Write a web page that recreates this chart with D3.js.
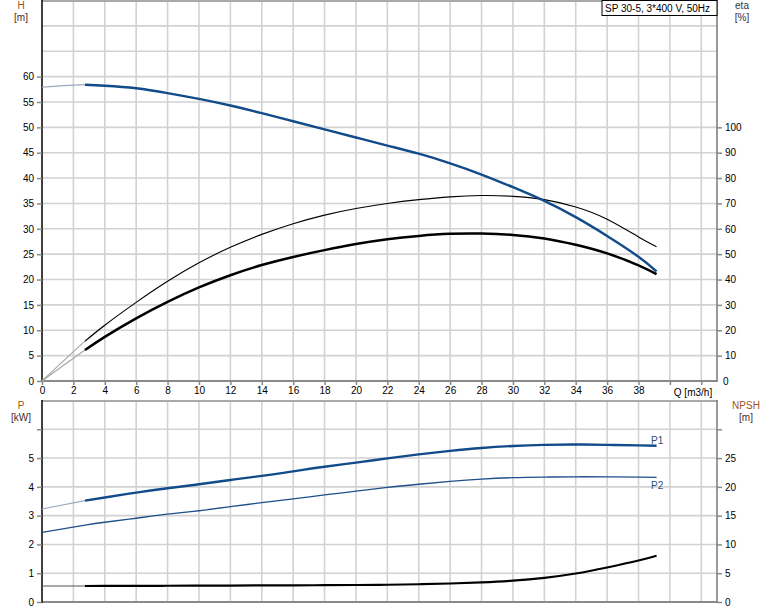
<!DOCTYPE html>
<html><head><meta charset="utf-8">
<script src="https://cdn.jsdelivr.net/npm/d3@7"></script>
<style>body{margin:0;background:#fff}svg{display:block;font-family:"Liberation Sans",Arial,sans-serif}</style>
</head><body><svg id="c" width="774" height="611"></svg>
<script>
// ---- data ----
const Q      = [0, 2.74, 4, 6, 8, 10, 12, 14, 16, 18, 20, 22, 24, 26, 28, 30, 32, 34, 36, 38, 39.15];
const H      = [57.9, 58.4, 58.2, 57.7, 56.75, 55.6, 54.3, 52.8, 51.2, 49.6, 48.0, 46.4, 44.8, 42.9, 40.7, 38.2, 35.5, 32.3, 28.6, 24.5, 21.6];
const etaHyd = [0, 15.7, 22.0, 31.0, 39.3, 46.6, 52.7, 57.8, 62.0, 65.4, 68.0, 70.0, 71.5, 72.6, 73.1, 72.8, 71.5, 68.6, 63.8, 56.8, 52.9];
const etaTot = [0, 12.2, 17.4, 24.7, 31.2, 36.9, 41.7, 45.7, 48.9, 51.6, 54.0, 55.9, 57.2, 58.0, 58.1, 57.6, 56.2, 53.7, 50.3, 45.6, 42.1];
const P1     = [3.23, 3.52, 3.63, 3.80, 3.95, 4.09, 4.24, 4.38, 4.54, 4.70, 4.84, 4.99, 5.13, 5.25, 5.35, 5.42, 5.46, 5.47, 5.46, 5.44, 5.43];
const P2     = [2.42, 2.67, 2.77, 2.91, 3.05, 3.17, 3.31, 3.45, 3.58, 3.72, 3.85, 3.98, 4.09, 4.19, 4.27, 4.32, 4.34, 4.35, 4.35, 4.34, 4.33];
const NPSH   = [2.78, 2.78, 2.79, 2.80, 2.82, 2.84, 2.86, 2.88, 2.90, 2.92, 2.95, 3.00, 3.08, 3.21, 3.42, 3.72, 4.20, 4.95, 6.00, 7.20, 8.04];
const xTicks = [0,2,4,6,8,10,12,14,16,18,20,22,24,26,28,30,32,34,36,38];
const hTicks = [0,5,10,15,20,25,30,35,40,45,50,55,60];
const etaTicks = [10,20,30,40,50,60,70,80,90,100];
const pTicks = [0,1,2,3,4,5];
const npshTicks = [0,5,10,15,20,25];
const title = "SP 30-5, 3*400 V, 50Hz";

// ---- layout ----
const svg = d3.select("#c");
const L = 42, R = 717;
const x = d3.scaleLinear().domain([0, 43]).range([L, R]);
const yH = d3.scaleLinear().domain([0, 75]).range([381, 0.5]);
const yEta = d3.scaleLinear().domain([0, 150]).range([381, 0.5]);
const yP = d3.scaleLinear().domain([0, 7]).range([602, 400.5]);
const yN = d3.scaleLinear().domain([0, 35]).range([602, 400.5]);
const grid = "#d2d2d2", blue = "#124b89", thinBlue = "#9aa9bf", thinGrey = "#a8a8a8";

function gridFor(yScale, vals, y0, y1) {
  const g = svg.append("g");
  g.selectAll(".h").data(vals).enter().append("line")
    .attr("x1", L).attr("x2", R).attr("y1", d => yScale(d)).attr("y2", d => yScale(d))
    .attr("stroke", grid).attr("stroke-width", 1.6);
  g.selectAll(".v").data(d3.range(2, 43, 2)).enter().append("line")
    .attr("x1", d => x(d)).attr("x2", d => x(d)).attr("y1", y0).attr("y2", y1)
    .attr("stroke", grid).attr("stroke-width", 1.6);
}
gridFor(yH, d3.range(5, 71, 5), 0, 381);
gridFor(yP, [1,2,3,4,5,6], 400, 602);

// borders
svg.append("line").attr("x1", L).attr("x2", R).attr("y1", 1).attr("y2", 1).attr("stroke", "#a9a9a9").attr("stroke-width", 2);
svg.append("line").attr("x1", L).attr("x2", R).attr("y1", 381).attr("y2", 381).attr("stroke", "#8a8a8a").attr("stroke-width", 2);
svg.append("line").attr("x1", L).attr("x2", R).attr("y1", 401).attr("y2", 401).attr("stroke", "#a9a9a9").attr("stroke-width", 2);
svg.append("line").attr("x1", L).attr("x2", R).attr("y1", 602).attr("y2", 602).attr("stroke", "#8a8a8a").attr("stroke-width", 2);
svg.append("line").attr("x1", R).attr("x2", R).attr("y1", 0).attr("y2", 382).attr("stroke", "#777").attr("stroke-width", 1.5);
svg.append("line").attr("x1", R).attr("x2", R).attr("y1", 400).attr("y2", 603).attr("stroke", "#777").attr("stroke-width", 1.5);
svg.append("line").attr("x1", L).attr("x2", L).attr("y1", 0).attr("y2", 382).attr("stroke", "#000").attr("stroke-width", 1.5);
svg.append("line").attr("x1", L).attr("x2", L).attr("y1", 400).attr("y2", 603).attr("stroke", "#000").attr("stroke-width", 1.5);

// axes
function styleAxis(g) {
  g.select(".domain").remove();
  g.selectAll(".tick line").attr("stroke", "#888").attr("stroke-width", 1.5);
  g.selectAll(".tick text").attr("fill", "#000").attr("font-size", 10).attr("font-family", '"Liberation Sans",Arial,sans-serif');
}
svg.append("g").attr("transform", `translate(${L},0)`)
  .call(d3.axisLeft(yH).tickValues(hTicks).tickSize(5).tickPadding(3)).call(styleAxis);
svg.append("g").attr("transform", `translate(${R},0)`)
  .call(d3.axisRight(yEta).tickValues(etaTicks).tickSize(5).tickPadding(3)).call(styleAxis);
svg.append("g").attr("transform", `translate(${L},0)`)
  .call(d3.axisLeft(yP).tickValues(pTicks.concat([6])).tickFormat(d => d === 6 ? "" : d).tickSize(5).tickPadding(3)).call(styleAxis);
svg.append("g").attr("transform", `translate(${R},0)`)
  .call(d3.axisRight(yN).tickValues(npshTicks.concat([30])).tickFormat(d => d === 30 ? "" : d).tickSize(5).tickPadding(3)).call(styleAxis);
svg.append("g").attr("transform", `translate(0,381)`)
  .call(d3.axisBottom(x).tickValues(xTicks.concat([40, 42])).tickFormat(d => d >= 40 ? "" : d).tickSize(4).tickPadding(2)).call(styleAxis);
svg.append("g").attr("transform", `translate(${R},0)`)
  .call(d3.axisRight(yEta).tickValues([0]).tickSize(0).tickPadding(6)).call(styleAxis);

// axis titles
function label(t, xx, yy, col, anchor) {
  svg.append("text").attr("x", xx).attr("y", yy).attr("font-size", 10).attr("fill", col)
    .attr("text-anchor", anchor || "middle").text(t);
}
const tCol = "#a0531b", uCol = "#4a2a2a";
label("H", 21, 9, tCol); label("[m]", 21, 21, uCol);
label("eta", 742, 9, "#333"); label("[%]", 742, 21, uCol);
label("P", 21, 409, tCol); label("[kW]", 21, 421, uCol);
label("NPSH", 746, 409, tCol); label("[m]", 746, 421, uCol);
label("Q [m3/h]", 693, 396, "#000");

// legend box
const lg = svg.append("g");
lg.append("rect").attr("x", 602).attr("y", 0.5).attr("width", R - 602).attr("height", 15)
  .attr("fill", "#fff").attr("stroke", "#000").attr("stroke-width", 1);
lg.append("text").attr("x", 605).attr("y", 12).attr("font-size", 10).attr("fill", "#000").text(title);

// curves
function draw(vals, yScale, thinCol, thickCol, thickW, thinOnly) {
  const pts = Q.map((q, i) => [q, vals[i]]);
  const line = d3.line().x(d => x(d[0])).y(d => yScale(d[1])).curve(d3.curveNatural);
  if (thinOnly) {
    svg.append("path").attr("d", line(pts)).attr("fill", "none").attr("stroke", thickCol).attr("stroke-width", thickW);
    return;
  }
  svg.append("path").attr("d", line(pts.slice(0, 3))).attr("fill", "none").attr("stroke", thinCol).attr("stroke-width", 1.2);
  svg.append("path").attr("d", line(pts.slice(1))).attr("fill", "none").attr("stroke", thickCol).attr("stroke-width", thickW).attr("stroke-linecap", "butt");
}
draw(etaHyd, yEta, thinGrey, "#000", 1.1, false);
draw(etaTot, yEta, thinGrey, "#000", 2.5, false);
draw(H, yH, thinBlue, blue, 2.4, false);
draw(P1, yP, thinBlue, blue, 2.4, false);
draw(P2, yP, thinBlue, "#1d4f8a", 1.3, true);
draw(NPSH, yN, "#555", "#000", 2.2, false);

label("P1", 651, 444, "#2b4f7e", "start");
label("P2", 651, 489, "#2b4f7e", "start");
</script></body></html>
